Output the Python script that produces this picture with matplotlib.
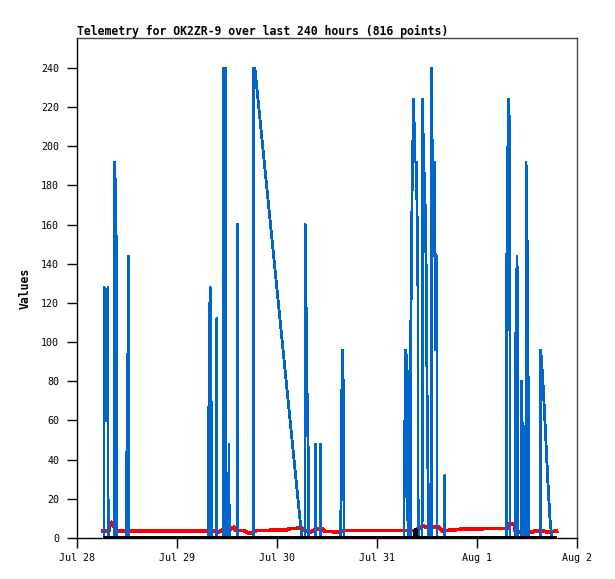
import matplotlib
matplotlib.use("Agg")
import matplotlib.pyplot as plt

# x values are hours since Jul 28 00:00
tick_hours = [0, 24, 48, 72, 96, 120]
tick_labels = ["Jul 28", "Jul 29", "Jul 30", "Jul 31", "Aug 1", "Aug 2"]
y_ticks = list(range(0, 241, 20))

blue_t = [6.4, 6.45, 6.9, 7.35, 7.4,
          8.95, 9.0, 9.4, 9.45,
          11.75, 11.8, 12.0, 12.3, 12.35,
          31.55, 31.6, 31.9, 32.25, 32.3,
          33.45, 33.5, 33.55,
          35.0, 35.05, 35.65, 35.7,
          36.35, 36.4, 36.45,
          38.4, 38.45, 38.5,
          42.25, 42.3, 42.6, 53.9,
          54.65, 54.7, 55.1, 55.45, 55.5,
          57.15, 57.2, 57.25,
          58.35, 58.4, 58.45,
          63.25, 63.3, 63.65, 63.95, 64.0,
          78.4, 78.45, 78.85, 79.3, 79.35,
          79.95, 80.0, 80.35, 80.7, 81.05, 81.4, 81.75, 81.8,
          82.75, 82.8, 83.15, 83.45, 83.75, 84.0, 84.25, 84.3,
          84.95, 85.0, 85.4, 85.75, 86.0, 86.3, 86.35,
          88.15, 88.2, 88.25,
          103.05, 103.1, 103.45, 103.8, 103.85,
          105.15, 105.2, 105.55, 105.6,
          106.55, 106.6, 106.95, 107.0,
          107.65, 107.7, 108.0, 108.3, 108.35,
          111.15, 111.2, 111.5, 111.9, 112.3, 112.7, 113.1, 113.5, 113.9]
blue_v = [0, 128, 60, 128, 0,
          0, 192, 144, 0,
          0, 40, 48, 144, 0,
          0, 96, 128, 32, 0,
          0, 112, 0,
          0, 240, 240, 0,
          0, 48, 0,
          0, 160, 0,
          0, 240, 240, 0,
          0, 160, 80, 40, 0,
          0, 48, 0,
          0, 48, 0,
          0, 48, 96, 64, 0,
          0, 32, 96, 80, 0,
          0, 96, 177, 224, 192, 192, 128, 0,
          0, 224, 192, 173, 135, 58, 19, 0,
          0, 240, 144, 192, 96, 144, 0,
          0, 32, 0,
          0, 144, 224, 208, 0,
          0, 96, 144, 0,
          0, 80, 32, 0,
          0, 192, 144, 48, 0,
          0, 96, 88, 74, 57, 39, 22, 8, 0]

red_t = [6.2, 7.5, 7.9, 8.2, 8.6, 9.0, 9.3, 12.0, 31.0, 32.0, 33.0, 34.0,
         35.0, 36.0, 37.5, 38.0, 40.0, 41.0, 42.0, 43.0, 50.0, 51.0, 54.0,
         55.0, 56.0, 57.0, 58.5, 59.5, 60.0, 63.0, 64.0, 81.0, 82.0, 83.0,
         84.0, 86.5, 87.5, 88.1, 91.7, 99.2, 103.2, 103.4, 104.9, 105.1,
         107.0, 108.0, 109.0, 110.0, 112.0, 113.0, 115.0]
red_v = [3.5, 3.5, 7.0, 8.0, 6.0, 7.0, 3.8, 3.6, 3.6, 3.2, 3.8, 3.2,
         4.2, 3.4, 5.5, 3.8, 3.8, 2.6, 2.8, 3.8, 4.0, 4.8, 5.0,
         3.5, 3.2, 4.2, 5.0, 3.4, 3.3, 3.2, 3.8, 3.8, 4.9, 6.1,
         5.4, 5.8, 3.7, 3.7, 4.4, 4.9, 4.9, 7.0, 7.0, 3.4,
         3.0, 3.6, 3.0, 3.6, 3.4, 3.0, 3.6]

black_t = [6.2, 80.9, 81.05, 81.2, 81.3, 115.0]
black_v = [0, 0, 3, 4, 0, 0]

W, H = 615, 579
fig = plt.figure(figsize=(W / 100, H / 100), dpi=100)
ax = fig.add_axes([77.3 / W, 1 - 538 / H, (577.3 - 77.3) / W, (538 - 38) / H])

ax.plot(red_t, red_v, color="#ff0000", lw=2.0, antialiased=False)
ax.plot(blue_t, blue_v, color="#0066cc", lw=1.3, antialiased=False)
ax.plot(black_t, black_v, color="#000000", lw=2.1, solid_capstyle="butt",
        antialiased=False)

ax.set_xlim(0, 120)
ax.set_ylim(0, 255.3)
ax.set_xticks(tick_hours)
ax.set_xticklabels(tick_labels)
ax.set_yticks(y_ticks)

mono = "DejaVu Sans Mono"
for lab in ax.get_xticklabels() + ax.get_yticklabels():
    lab.set_fontfamily(mono)
    lab.set_fontsize(7.2)
ax.tick_params(direction="out", length=7, width=1, colors="black")
ax.tick_params(axis="y", pad=6)
ax.tick_params(axis="x", pad=4)

for s in ["left", "bottom"]:
    ax.spines[s].set_color("black")
for s in ["right", "top"]:
    ax.spines[s].set_color("#444444")
for s in ax.spines.values():
    s.set_linewidth(1)

ax.set_title("Telemetry for OK2ZR-9 over last 240 hours (816 points)",
             loc="left", fontfamily=mono, fontweight="bold", fontsize=8.3, pad=2.5)
ax.set_ylabel("Values", fontfamily=mono, fontweight="bold", fontsize=8.3)
ax.yaxis.set_label_coords(-0.0916, 0.5)

fig.savefig("out.png", dpi=100)
